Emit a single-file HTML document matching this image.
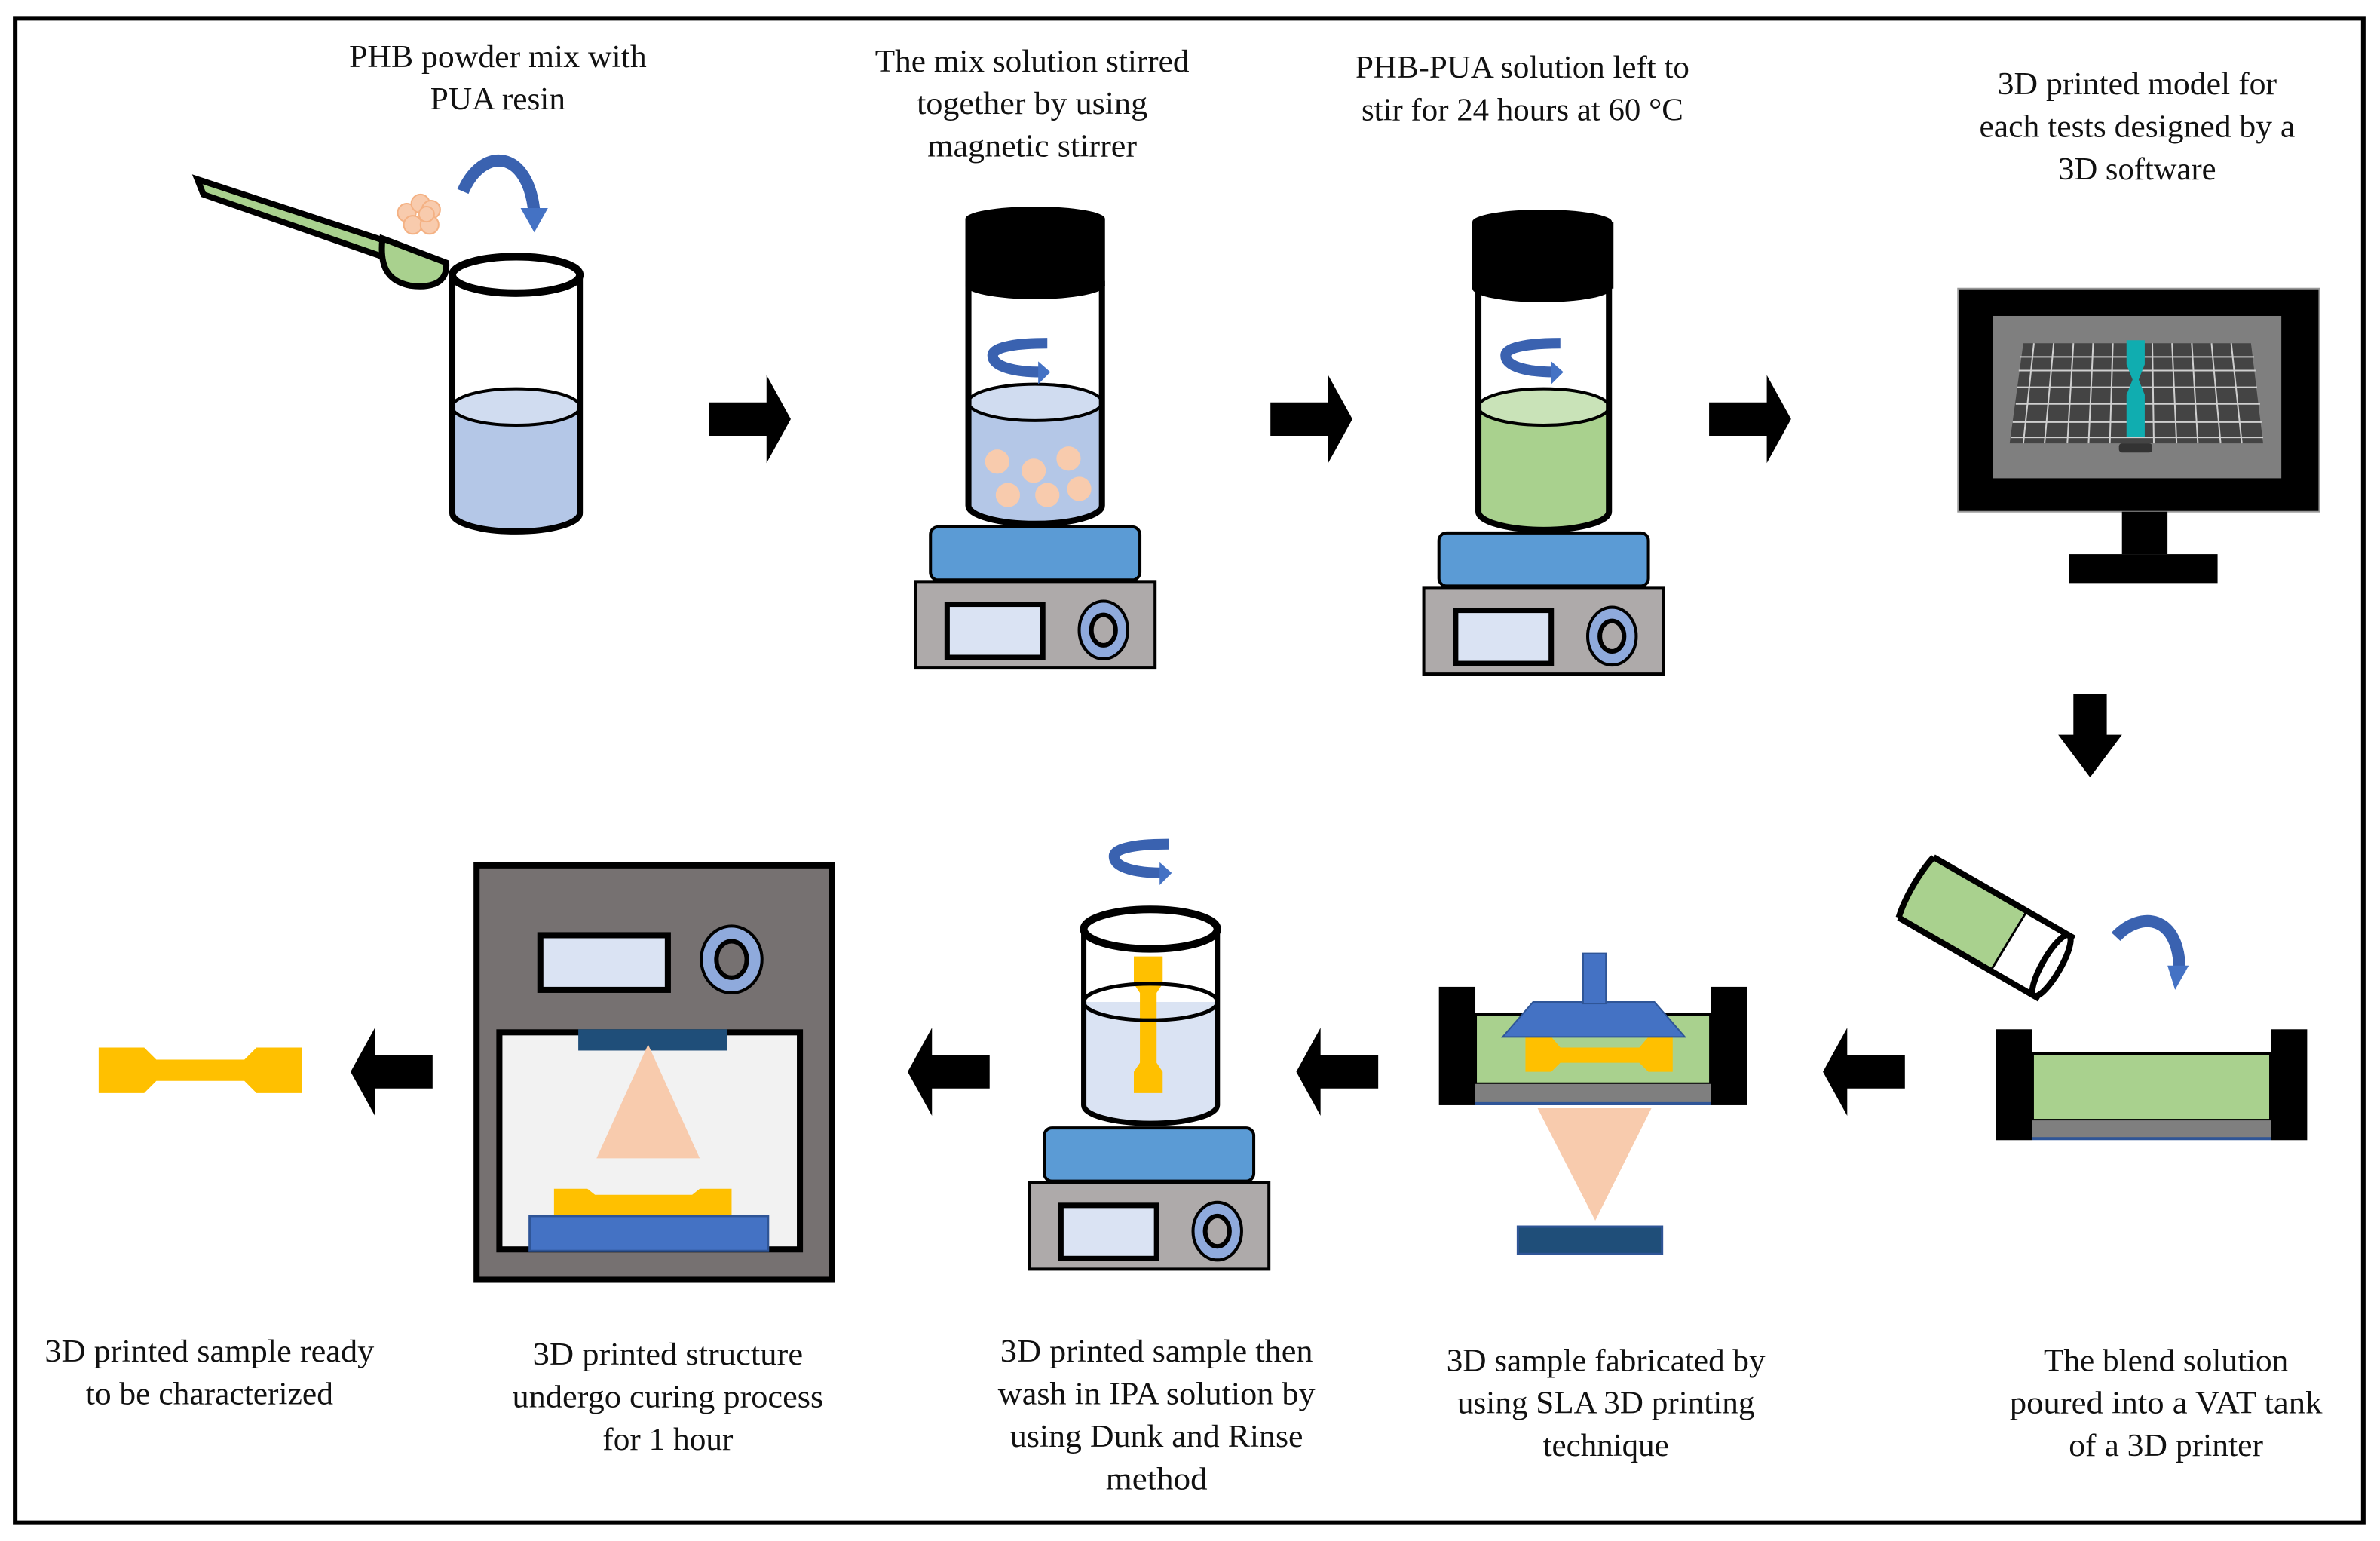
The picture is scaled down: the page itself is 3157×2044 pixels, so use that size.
<!DOCTYPE html>
<html><head><meta charset="utf-8"><style>
html,body{margin:0;padding:0;background:#fff}
svg{display:block}
text{font-family:"Liberation Serif",serif;font-size:21px;fill:#111;text-anchor:middle}
</style></head><body>
<svg width="3157" height="2044" viewBox="0 0 1568 1015" xmlns="http://www.w3.org/2000/svg">
<defs>
<g id="hp">
  <rect x="-69" y="0" width="138" height="35" rx="5" fill="#5b9bd5" stroke="#000" stroke-width="2"/>
  <rect x="-79" y="36" width="158" height="57" fill="#aeaaaa" stroke="#000" stroke-width="2"/>
  <rect x="-58" y="51" width="63" height="35" fill="#dae3f3" stroke="#000" stroke-width="3.5"/>
  <ellipse cx="45" cy="68" rx="16" ry="19" fill="#8faadc" stroke="#000" stroke-width="2"/>
  <ellipse cx="45" cy="68" rx="8" ry="10" fill="#aeaaaa" stroke="#000" stroke-width="3"/>
</g>
<g id="rarr"><polygon points="0,-11 38,-11 38,-29 54,0 38,29 38,11 0,11" fill="#000"/></g>
<g id="swirl">
  <path d="M8,-10 C-10,-10 -28,-8 -28,-2 C-28,6 -12,9 4,9" fill="none" stroke="#3a62b0" stroke-width="7"/>
  <polygon points="2,2 10,9 2,17" fill="#4472c4"/>
</g>
<g id="dog"><polygon points="0,0 30,0 38,8 96,8 104,0 134,0 134,30 104,30 96,22 38,22 30,30 0,30" fill="#ffc000"/></g>
</defs>

<rect x="10" y="12" width="1547" height="991" fill="none" stroke="#000" stroke-width="3"/>

<!-- Step 1: beaker + spoon -->
<polygon points="130,118 134,128 255,170 258,160" fill="#a9d18e" stroke="#000" stroke-width="4"/>
<path d="M252,157 L294,173 C295,186 285,190 270,188 C255,185 250,175 252,157 Z" fill="#a9d18e" stroke="#000" stroke-width="4"/>
<g fill="#f8cbad" stroke="#f4b183" stroke-width="1">
<circle cx="268" cy="140" r="6"/><circle cx="277" cy="134" r="6"/><circle cx="284" cy="138" r="6"/><circle cx="272" cy="148" r="6"/><circle cx="283" cy="148" r="6"/><circle cx="281" cy="141" r="5"/>
</g>
<path d="M305,126 C318,96 348,98 352,140" fill="none" stroke="#3a62b0" stroke-width="8"/>
<polygon points="343,137 361,137 352,153" fill="#4472c4"/>
<path d="M298,268 L298,338 A42,12 0 0,0 382,338 L382,268 Z" fill="#b4c7e7"/>
<ellipse cx="340" cy="268" rx="42" ry="12" fill="#d0dcf0" stroke="#000" stroke-width="2"/>
<path d="M298,181 L298,338 A42,12 0 0,0 382,338 L382,181" fill="none" stroke="#000" stroke-width="4"/>
<ellipse cx="340" cy="181" rx="42" ry="12" fill="#fff" stroke="#000" stroke-width="5"/>

<use href="#rarr" x="467" y="276"/>
<use href="#rarr" x="837" y="276"/>
<use href="#rarr" x="1126" y="276"/>

<!-- Step 2 stirrer -->
<path d="M638,265 L638,333 A44,12 0 0,0 726,333 L726,265 Z" fill="#b4c7e7"/>
<ellipse cx="682" cy="265" rx="44" ry="12" fill="#d0dcf0" stroke="#000" stroke-width="2"/>
<g fill="#f8cbad"><ellipse cx="657" cy="304" rx="8" ry="8"/><ellipse cx="681" cy="310" rx="8" ry="8"/><ellipse cx="704" cy="302" rx="8" ry="8"/><ellipse cx="664" cy="326" rx="8" ry="8"/><ellipse cx="690" cy="326" rx="8" ry="8"/><ellipse cx="711" cy="322" rx="8" ry="8"/></g>
<path d="M638,185 L638,333 A44,12 0 0,0 726,333 L726,185" fill="none" stroke="#000" stroke-width="4"/>
<rect x="636" y="144" width="92" height="44" fill="#000"/>
<ellipse cx="682" cy="144" rx="46" ry="8" fill="#000"/><ellipse cx="682" cy="188" rx="46" ry="9" fill="#000"/>
<use href="#swirl" x="682" y="236"/>
<use href="#hp" x="682" y="347"/>

<!-- Step 3 stirrer -->
<path d="M974,268 L974,337 A43,12 0 0,0 1060,337 L1060,268 Z" fill="#a9d18e"/>
<ellipse cx="1017" cy="268" rx="43" ry="12" fill="#c9e3b8" stroke="#000" stroke-width="2"/>
<path d="M974,188 L974,337 A43,12 0 0,0 1060,337 L1060,188" fill="none" stroke="#000" stroke-width="4"/>
<rect x="970" y="146" width="93" height="44" fill="#000"/>
<ellipse cx="1016" cy="146" rx="46" ry="8" fill="#000"/><ellipse cx="1016" cy="190" rx="46" ry="9" fill="#000"/>
<use href="#swirl" x="1020" y="236"/>
<use href="#hp" x="1017" y="351"/>

<!-- Step 4 monitor -->
<rect x="1290" y="190" width="238" height="147" fill="#000" stroke="#999" stroke-width="1"/>
<rect x="1313" y="208" width="190" height="107" fill="#7f7f7f"/>
<polygon points="1333,226 1483,226 1491,292 1324,292" fill="#444"/>
<g stroke="#cfcfcf" stroke-width="1">
<line x1="1331" y1="235" x2="1485" y2="235"/><line x1="1330" y1="244" x2="1486" y2="244"/><line x1="1329" y1="255" x2="1487" y2="255"/><line x1="1328" y1="266" x2="1489" y2="266"/><line x1="1326" y1="278" x2="1490" y2="278"/><line x1="1325" y1="288" x2="1491" y2="288"/>
<line x1="1340" y1="226" x2="1333" y2="292"/><line x1="1353" y1="226" x2="1347" y2="292"/><line x1="1366" y1="226" x2="1362" y2="292"/><line x1="1379" y1="226" x2="1376" y2="292"/><line x1="1392" y1="226" x2="1390" y2="292"/><line x1="1418" y1="226" x2="1419" y2="292"/><line x1="1431" y1="226" x2="1434" y2="292"/><line x1="1444" y1="226" x2="1448" y2="292"/><line x1="1457" y1="226" x2="1463" y2="292"/><line x1="1470" y1="226" x2="1477" y2="292"/>
</g>
<polygon points="1401,224 1413,224 1413,240 1409,250 1413,260 1413,288 1401,288 1401,260 1405,250 1401,240" fill="#10adb0"/>
<rect x="1396" y="292" width="22" height="6" rx="2" fill="#333"/>
<rect x="1398" y="337" width="30" height="28" fill="#000"/>
<rect x="1363" y="365" width="98" height="19" fill="#000"/>

<!-- Down arrow -->
<polygon points="1366,457 1388,457 1388,484 1398,484 1377,512 1356,484 1366,484" fill="#000"/>

<!-- Step 5 VAT + bottle -->
<g transform="translate(1310,612) rotate(30)">
<path d="M-55,-23 L50,-23 L50,23 L-55,23 C-58,10 -58,-10 -55,-23 Z" fill="#a9d18e"/>
<rect x="15" y="-23" width="38" height="46" fill="#fff"/>
<path d="M-55,-23 L52,-23 M-55,23 L52,23 M-55,-23 C-58,-10 -58,10 -55,23" fill="none" stroke="#000" stroke-width="4"/>
<line x1="16" y1="-23" x2="15" y2="23" stroke="#000" stroke-width="1.5"/>
<ellipse cx="48" cy="0" rx="6" ry="23" fill="none" stroke="#000" stroke-width="4"/>
</g>
<path d="M1394,617 C1410,600 1436,602 1436,640" fill="none" stroke="#3a62b0" stroke-width="8"/>
<polygon points="1428,636 1442,636 1433,652" fill="#4472c4"/>
<rect x="1339" y="694" width="157" height="44" fill="#a9d18e" stroke="#000" stroke-width="2"/>
<rect x="1339" y="738" width="157" height="12" fill="#7f7f7f"/>
<line x1="1339" y1="750" x2="1496" y2="750" stroke="#2f5597" stroke-width="2"/>
<rect x="1315" y="678" width="24" height="73" fill="#000"/>
<rect x="1496" y="678" width="24" height="73" fill="#000"/>

<!-- left arrows -->
<use href="#rarr" transform="translate(1255,706) scale(-1,1)"/>
<use href="#rarr" transform="translate(908,706) scale(-1,1)"/>
<use href="#rarr" transform="translate(652,706) scale(-1,1)"/>
<use href="#rarr" transform="translate(285,706) scale(-1,1)"/>

<!-- Step 6 SLA printer -->
<rect x="972" y="668" width="155" height="46" fill="#a9d18e" stroke="#000" stroke-width="2"/>
<rect x="972" y="714" width="155" height="13" fill="#7f7f7f"/>
<line x1="972" y1="727" x2="1127" y2="727" stroke="#2f5597" stroke-width="2"/>
<rect x="948" y="650" width="24" height="78" fill="#000"/>
<rect x="1127" y="650" width="24" height="78" fill="#000"/>
<polygon points="1005,683 1022,683 1028,690 1080,690 1086,683 1102,683 1102,706 1086,706 1080,700 1028,700 1022,706 1005,706" fill="#ffc000"/>
<polygon points="1010,660 1090,660 1110,683 990,683" fill="#4472c4" stroke="#2f5597" stroke-width="1"/>
<rect x="1043" y="628" width="15" height="33" fill="#4472c4" stroke="#2f5597" stroke-width="1"/>
<polygon points="1013,730 1088,730 1051,804" fill="#f8cbad"/>
<rect x="1000" y="808" width="95" height="18" fill="#1f4e79" stroke="#2f5597" stroke-width="1.5"/>

<!-- Step 7 wash -->
<path d="M714,660 L714,728 A44,12 0 0,0 802,728 L802,660 Z" fill="#dae3f3"/>
<polygon points="747,630 766,630 766,648 762,654 762,700 766,706 766,720 747,720 747,706 751,700 751,654 747,648" fill="#ffc000"/>
<path d="M714,660 A44,12 0 0,1 802,660" fill="none" stroke="#000" stroke-width="2.5"/>
<path d="M714,660 A44,12 0 0,0 802,660" fill="none" stroke="#000" stroke-width="2.5"/>
<path d="M714,612 L714,728 A44,12 0 0,0 802,728 L802,612" fill="none" stroke="#000" stroke-width="3.5"/>
<ellipse cx="758" cy="612" rx="44" ry="13" fill="none" stroke="#000" stroke-width="5"/>
<use href="#swirl" x="762" y="566"/>
<use href="#hp" x="757" y="743"/>

<!-- Step 8 oven -->
<rect x="314" y="570" width="234" height="273" fill="#767171" stroke="#000" stroke-width="4"/>
<rect x="356" y="616" width="84" height="36" fill="#dae3f3" stroke="#000" stroke-width="4"/>
<ellipse cx="482" cy="632" rx="20" ry="22" fill="#8faadc" stroke="#000" stroke-width="2"/>
<ellipse cx="482" cy="632" rx="10" ry="12" fill="#767171" stroke="#000" stroke-width="3"/>
<rect x="329" y="680" width="198" height="143" fill="#f2f2f2" stroke="#000" stroke-width="4"/>
<rect x="381" y="678" width="98" height="14" fill="#1f4e79"/>
<polygon points="427,688 461,763 393,763" fill="#f8cbad"/>
<polygon points="365,783 387,783 392,787 456,787 461,783 482,783 482,803 365,803" fill="#ffc000"/>
<rect x="349" y="801" width="157" height="23" fill="#4472c4" stroke="#2f5597" stroke-width="1.5"/>

<!-- Final -->
<use href="#dog" x="65" y="690"/>

<!-- Labels -->
<text x="328" y="44" textLength="196" lengthAdjust="spacingAndGlyphs">PHB powder mix with</text>
<text x="328" y="72" textLength="89" lengthAdjust="spacingAndGlyphs">PUA resin</text>
<text x="680" y="47" textLength="207" lengthAdjust="spacingAndGlyphs">The mix solution stirred</text>
<text x="680" y="75" textLength="152" lengthAdjust="spacingAndGlyphs">together by using</text>
<text x="680" y="103" textLength="138" lengthAdjust="spacingAndGlyphs">magnetic stirrer</text>
<text x="1003" y="51" textLength="220" lengthAdjust="spacingAndGlyphs">PHB-PUA solution left to</text>
<text x="1003" y="79" textLength="212" lengthAdjust="spacingAndGlyphs">stir for 24 hours at 60 °C</text>
<text x="1408" y="62" textLength="184" lengthAdjust="spacingAndGlyphs">3D printed model for</text>
<text x="1408" y="90" textLength="208" lengthAdjust="spacingAndGlyphs">each tests designed by a</text>
<text x="1408" y="118" textLength="104" lengthAdjust="spacingAndGlyphs">3D software</text>

<text x="138" y="897" textLength="217" lengthAdjust="spacingAndGlyphs">3D printed sample ready</text>
<text x="138" y="925" textLength="163" lengthAdjust="spacingAndGlyphs">to be characterized</text>
<text x="440" y="899" textLength="178" lengthAdjust="spacingAndGlyphs">3D printed structure</text>
<text x="440" y="927" textLength="205" lengthAdjust="spacingAndGlyphs">undergo curing process</text>
<text x="440" y="955" textLength="86" lengthAdjust="spacingAndGlyphs">for 1 hour</text>
<text x="762" y="897" textLength="206" lengthAdjust="spacingAndGlyphs">3D printed sample then</text>
<text x="762" y="925" textLength="209" lengthAdjust="spacingAndGlyphs">wash in IPA solution by</text>
<text x="762" y="953" textLength="193" lengthAdjust="spacingAndGlyphs">using Dunk and Rinse</text>
<text x="762" y="981" textLength="67" lengthAdjust="spacingAndGlyphs">method</text>
<text x="1058" y="903" textLength="210" lengthAdjust="spacingAndGlyphs">3D sample fabricated by</text>
<text x="1058" y="931" textLength="196" lengthAdjust="spacingAndGlyphs">using SLA 3D printing</text>
<text x="1058" y="959" textLength="83" lengthAdjust="spacingAndGlyphs">technique</text>
<text x="1427" y="903" textLength="161" lengthAdjust="spacingAndGlyphs">The blend solution</text>
<text x="1427" y="931" textLength="206" lengthAdjust="spacingAndGlyphs">poured into a VAT tank</text>
<text x="1427" y="959" textLength="128" lengthAdjust="spacingAndGlyphs">of a 3D printer</text>
</svg>
</body></html>
